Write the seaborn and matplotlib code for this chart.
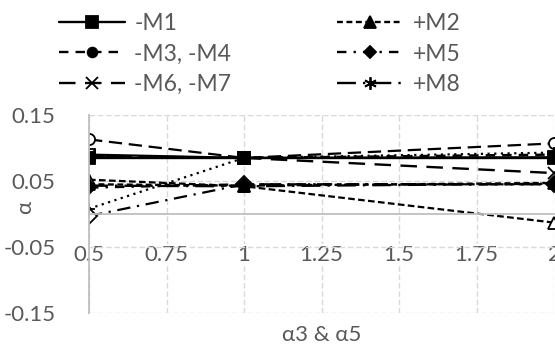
import matplotlib
matplotlib.use("Agg")
import matplotlib.pyplot as plt
import seaborn as sns

# --- DATOS ---
x_vals = [0.5, 1, 2]

m1 = [0.085, 0.085, 0.085]
m2 = [0.045, 0.043, 0.047]
m3_m4 = [0.087, 0.085, 0.090]
m5 = [0.040, 0.045, 0.045]
m6_m7 = [0.088, 0.085, 0.062]
m8 = [0.043, 0.042, 0.046]

# series sin leyenda (marcadores huecos)
extra_circle = [0.113, 0.085, 0.107]
extra_triangle = [0.052, 0.042, -0.013]
extra_diamond = [-0.003, 0.045, 0.045]
extra_dotted = [0.008, 0.085, 0.093]
extra_square = [0.090, 0.085, 0.086]

x_ticks = [0.5, 0.75, 1, 1.25, 1.5, 1.75, 2]
x_tick_labels = ["0.5", "0.75", "1", "1.25", "1.5", "1.75", "2"]
y_ticks = [-0.15, -0.05, 0.05, 0.15]
y_tick_labels = ["-0.15", "-0.05", "0.05", "0.15"]

# --- ESTILO ---
sns.set_theme(style="white")
plt.rcParams["font.family"] = ["Lato", "DejaVu Sans"]
TEXT_COLOR = "#595959"
GRID_COLOR = "#d9d9d9"
AXIS_COLOR = "#bfbfbf"
FS = 16

fig = plt.figure(figsize=(5.55, 3.48), dpi=100)
ax = fig.add_axes([89 / 555, 1 - 313 / 348, 465 / 555, 198 / 348])

# extras primero (quedan debajo)
extras = [
    (extra_circle, (0, (6, 3)), "o", "white"),
    (extra_triangle, (0, (3, 1.5)), "^", "white"),
    (extra_diamond, (0, (6, 3, 1, 3)), "D", "white"),
    (extra_dotted, (0, (1, 2)), "+", "black"),
    (extra_square, "-", "s", "white"),
]
for vals, ls, mk, fc in extras:
    sns.lineplot(x=x_vals, y=vals, ax=ax, color="black", linestyle=ls, linewidth=1.6,
                 marker=mk, markersize=8, markerfacecolor=fc, markeredgecolor="black",
                 markeredgewidth=1.3, legend=False)

series = [
    ("-M1", m1, "-", "s", 8),
    ("-M3, -M4", m3_m4, (0, (4, 3)), "o", 7),
    ("-M6, -M7", m6_m7, (0, (7, 4)), "x", 8),
    ("+M2", m2, (0, (2.5, 1.5)), "^", 8),
    ("+M5", m5, (0, (4, 3, 1, 3)), "D", 6),
    ("+M8", m8, (0, (8, 3, 1, 3)), (6, 2, 0), 9),
]
handles = []
for name, vals, ls, mk, ms in series:
    sns.lineplot(x=x_vals, y=vals, ax=ax, color="black", linestyle=ls, linewidth=1.7,
                 marker=mk, markersize=ms, markerfacecolor="black", markeredgecolor="black",
                 markeredgewidth=1.3, label=name)
    handles.append(ax.get_lines()[-1])

if ax.get_legend() is not None:
    ax.get_legend().remove()

# --- EJES ---
ax.set_xlim(0.5, 2)
ax.set_ylim(-0.15, 0.15)
ax.set_xticks(x_ticks)
ax.set_xticklabels(x_tick_labels)
ax.set_yticks(y_ticks)
ax.set_yticklabels(y_tick_labels)

ax.grid(True, linestyle=(0, (4, 2)), color=GRID_COLOR, linewidth=1.0)
ax.set_axisbelow(True)
for side in ["top", "right"]:
    ax.spines[side].set_visible(False)
ax.spines["left"].set_color(AXIS_COLOR)
ax.spines["left"].set_linewidth(1.3)
ax.spines["bottom"].set_position(("data", 0))
ax.spines["bottom"].set_color(AXIS_COLOR)
ax.spines["bottom"].set_linewidth(1.3)

ax.tick_params(axis="x", length=0, pad=22, labelsize=FS, labelcolor=TEXT_COLOR)
ax.tick_params(axis="y", length=0, pad=24, labelsize=FS, labelcolor=TEXT_COLOR)
for lbl in ax.get_xticklabels():
    lbl.set_bbox(dict(facecolor="white", edgecolor="none", pad=0.5))

ax.set_xlabel("α3 & α5", fontsize=FS, color=TEXT_COLOR)
ax.xaxis.set_label_coords(0.5, -0.111)
ax.xaxis.label.set_va("center")
ax.set_ylabel("α", fontsize=FS, color=TEXT_COLOR)
ax.yaxis.set_label_coords(-0.138, 0.535)
ax.yaxis.label.set_va("center")

fig.legend(handles=handles, labels=[s[0] for s in series], ncol=2, loc="upper left",
           bbox_to_anchor=(0.106, 0.963), frameon=False, fontsize=FS + 0.5,
           labelcolor=TEXT_COLOR, handlelength=2.9, handletextpad=0.4,
           columnspacing=4.6, labelspacing=0.42, borderpad=0, borderaxespad=0,
           numpoints=1)

fig.savefig("out.png", dpi=100)
